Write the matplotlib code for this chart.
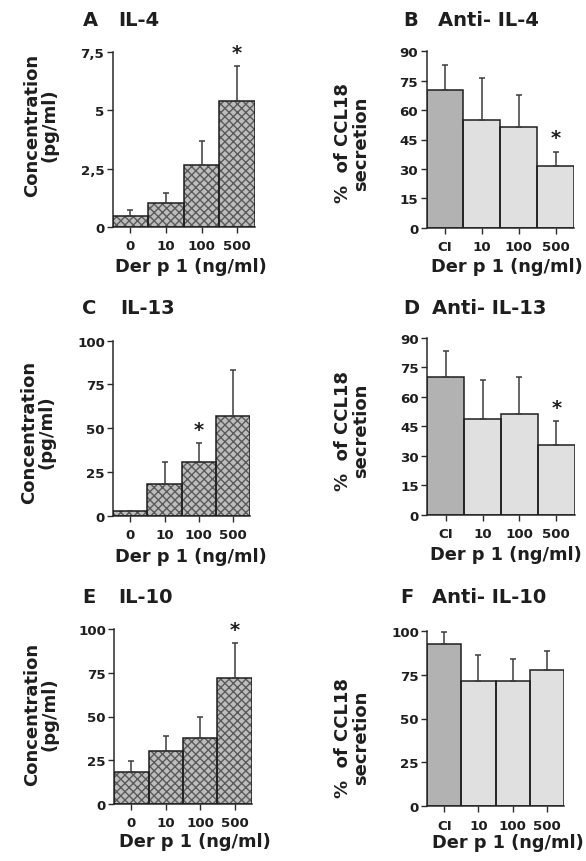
import numpy as np
import matplotlib
matplotlib.use("Agg")
import matplotlib.pyplot as plt

plt.rcParams['font.family'] = ['DejaVu Sans']
plt.rcParams['font.weight'] = 'bold'
plt.rcParams['hatch.linewidth'] = 1.0

#data (mean and upper error)
cyto_labels = ['0', '10', '100', '500']
anti_labels = ['CI', '10', '100', '500']

il4_mean = [0.46, 1.03, 2.66, 5.4]
il4_err = [0.27, 0.42, 1.03, 1.5]
anti_il4_mean = [70.4, 54.8, 51.4, 31.6]
anti_il4_err = [12.8, 21.6, 16.5, 7.2]

il13_mean = [2.9, 18.1, 30.9, 57.1]
il13_err = [0.0, 12.4, 10.6, 26.1]
anti_il13_mean = [70.0, 48.9, 51.3, 35.3]
anti_il13_err = [13.2, 19.9, 18.7, 12.4]

il10_mean = [18.1, 30.1, 37.9, 71.8]
il10_err = [6.3, 8.6, 11.6, 20.2]
anti_il10_mean = [92.4, 71.3, 71.3, 77.6]
anti_il10_err = [7.0, 14.8, 12.4, 11.0]

W, H = 586, 862
fig = plt.figure(figsize=(W/100, H/100), dpi=100)

def px_axes(left, top, right, bottom):
    return fig.add_axes([left/W, 1-bottom/H, (right-left)/W, (bottom-top)/H])

def ftext(x, y, s, **kw):
    fig.text(x/W, 1-y/H, s, fontweight='bold', **kw)

def panel(ax, means, errs, labels, yticks, ytlabels, star=None, hatched=True):
    x = np.arange(len(means))
    if hatched:
        ax.bar(x, means, width=1.0, color='#bdbdbd', edgecolor='#5a5a5a',
               linewidth=0, hatch='xxxx', zorder=2)
    else:
        cols = ['#b2b2b2'] + ['#e0e0e0']*(len(means)-1)
        ax.bar(x, means, width=1.0, color=cols, linewidth=0, zorder=2)
    ax.bar(x, means, width=1.0, fill=False, edgecolor='#1e1e1e', linewidth=1.1, zorder=3)
    ax.errorbar(x, means, yerr=[np.zeros(len(errs)), errs], fmt='none',
                ecolor='#3c3c3c', elinewidth=1.1, capsize=2.2, capthick=1.1, zorder=4)
    if star is not None:
        ax.annotate('*', (star, means[star]+errs[star]), xytext=(0, 3),
                    textcoords='offset points', ha='center', va='bottom',
                    fontsize=14, fontweight='bold', color='#1e1e1e', annotation_clip=False)
    ax.set_xlim(-0.5, len(means)-0.5)
    ax.set_ylim(0, yticks[-1])
    ax.set_xticks(x)
    ax.set_xticklabels(labels)
    ax.set_yticks(yticks)
    ax.set_yticklabels(ytlabels)
    for s in ['top', 'right']:
        ax.spines[s].set_visible(False)
    for s in ['left', 'bottom']:
        ax.spines[s].set_linewidth(1.1)
        ax.spines[s].set_color('#2a2a2a')
    ax.tick_params(length=4, width=1.0, color='#2a2a2a', labelsize=9.6,
                   labelcolor='#1e1e1e', pad=2)
    ax.tick_params(axis='x', pad=5)
    ax.set_facecolor('none')

conc_ticks_a = [0, 2.5, 5, 7.5]
conc_tl_a = ['0', '2,5', '5', '7,5']
conc_ticks = [0, 25, 50, 75, 100]
pct_ticks = [0, 15, 30, 45, 60, 75, 90]

axA = px_axes(112.7, 52.7, 255, 228)
panel(axA, il4_mean, il4_err, cyto_labels, conc_ticks_a, conc_tl_a, star=3)
axB = px_axes(426.5, 52.3, 574, 228.7)
panel(axB, anti_il4_mean, anti_il4_err, anti_labels, pct_ticks, [str(t) for t in pct_ticks], star=3, hatched=False)
axC = px_axes(113.3, 341.7, 250, 516.7)
panel(axC, il13_mean, il13_err, cyto_labels, conc_ticks, [str(t) for t in conc_ticks], star=2)
axD = px_axes(427.3, 339, 574.7, 515.7)
panel(axD, anti_il13_mean, anti_il13_err, anti_labels, pct_ticks, [str(t) for t in pct_ticks], star=3, hatched=False)
axE = px_axes(114.3, 630, 251.7, 805)
panel(axE, il10_mean, il10_err, cyto_labels, conc_ticks, [str(t) for t in conc_ticks], star=3)
axF = px_axes(427.3, 631.7, 563.7, 807.3)
panel(axF, anti_il10_mean, anti_il10_err, anti_labels, conc_ticks, [str(t) for t in conc_ticks], hatched=False)

#panel titles
tkw = dict(fontsize=14, va='center', ha='left', color='#1e1e1e')
ftext(82.7, 20.7, 'A', **tkw); ftext(118, 20.7, 'IL-4', **tkw)
ftext(403, 20, 'B', **tkw); ftext(438, 20, 'Anti- IL-4', **tkw)
ftext(81.7, 308, 'C', **tkw); ftext(120, 308, 'IL-13', **tkw)
ftext(403, 308, 'D', **tkw); ftext(432, 308, 'Anti- IL-13', **tkw)
ftext(82.7, 598, 'E', **tkw); ftext(118, 598, 'IL-10', **tkw)
ftext(400, 598, 'F', **tkw); ftext(432, 598, 'Anti- IL-10', **tkw)

#y labels, two lines each
ykw = dict(fontsize=13, rotation=90, ha='center', va='center', color='#1e1e1e',
           multialignment='center', linespacing=1.0)
for x, y in [(40.8, 125), (38, 432), (40.8, 714)]:
    ftext(x, y, 'Concentration\n(pg/ml)', **ykw)
for y in [143.5, 431, 738]:
    ftext(352, y, '%  of CCL18\nsecretion', **ykw)

#x labels
xkw = dict(fontsize=12.8, ha='center', va='center', color='#1e1e1e')
for x, y in [(191, 266.7), (507, 267), (191, 556.7), (505.5, 555), (195, 841.7), (508, 843)]:
    ftext(x, y, 'Der p 1 (ng/ml)', **xkw)

plt.savefig('out.png', dpi=100)
